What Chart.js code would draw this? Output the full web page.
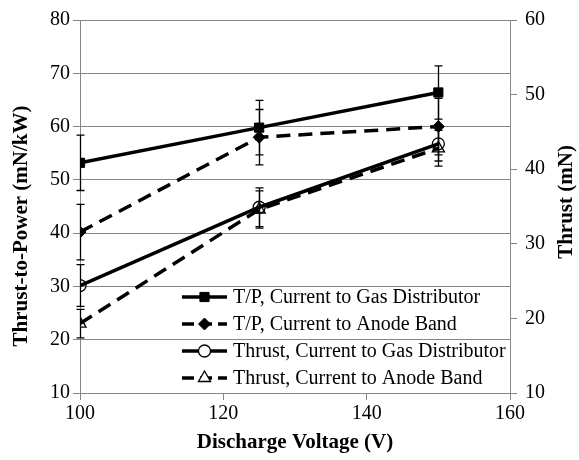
<!DOCTYPE html>
<html>
<head>
<meta charset="utf-8">
<script src="https://cdn.jsdelivr.net/npm/chart.js@4.4.1/dist/chart.umd.min.js"></script>
<style>
  html, body { margin: 0; padding: 0; background: #fff; }
  #wrap { width: 579px; height: 460px; }
</style>
</head>
<body>
<div id="wrap"><canvas id="c" width="579" height="460"></canvas></div>
<script>
"use strict";

// values
const voltage = [100, 125, 150];
const tpGas = [53.2, 59.8, 66.4];
const tpGasErr = [5.2, 5.1, 5.0];
const tpAnode = [40.2, 58.0, 60.0];
const tpAnodeErr = [5.2, 5.2, 5.3];
const thrustGas = [24.4, 34.9, 43.4];
const thrustGasErr = [2.8, 2.6, 2.3];
const thrustAnode = [19.3, 34.6, 42.8];
const thrustAnodeErr = [1.9, 2.5, 2.4];

const seriesNames = [
    "T/P, Current to Gas Distributor",
    "T/P, Current to Anode Band",
    "Thrust, Current to Gas Distributor",
    "Thrust, Current to Anode Band",
];

const xTicks = [100, 120, 140, 160];
const leftTicks = [10, 20, 30, 40, 50, 60, 70, 80];
const rightTicks = [10, 20, 30, 40, 50, 60];

const FONT = "'Liberation Serif', 'Times New Roman', serif";
const GRID = "#868686";

function pts(ys) {
    return voltage.map(function (v, i) {
        return { x: v, y: ys[i] };
    });
}

function makeSet(label, ys, errs, axis, style, dashed) {
    const open = style === "circle" || style === "triangle";
    return {
        label: label,
        data: pts(ys),
        errors: errs,
        yAxisID: axis,
        borderColor: "#000",
        borderWidth: 3.5,
        borderDash: dashed ? [14, 8] : [],
        backgroundColor: open ? "rgba(255,255,255,0)" : "#000",
        pointStyle: style,
        pointRadius: style === "rect" ? 6.5 : style === "triangle" ? 7 : 6,
        pointBorderWidth: open ? 1.3 : 1,
        pointBorderColor: "#000",
        pointBackgroundColor: open ? "rgba(255,255,255,0)" : "#000",
        tension: 0,
    };
}

/**
 * Vertical error bars with caps
 */
const errorBars = {
    id: "errorBars",
    afterDatasetsDraw: function (chart) {
        const ctx = chart.ctx;
        const xs = chart.scales.x;
        ctx.save();
        ctx.strokeStyle = "#000";
        ctx.lineWidth = 1.3;
        chart.data.datasets.forEach(function (ds) {
            const ys = chart.scales[ds.yAxisID];
            ds.data.forEach(function (p, i) {
                const e = ds.errors[i];
                const px = Math.round(xs.getPixelForValue(p.x)) + 0.5;
                const top = ys.getPixelForValue(p.y + e);
                const bot = ys.getPixelForValue(p.y - e);
                ctx.beginPath();
                ctx.moveTo(px, top);
                ctx.lineTo(px, bot);
                ctx.moveTo(px - 4, top);
                ctx.lineTo(px + 4, top);
                ctx.moveTo(px - 4, bot);
                ctx.lineTo(px + 4, bot);
                ctx.stroke();
            });
        });
        ctx.restore();
    },
};

function verticalTitle(ctx, text, x, y) {
    ctx.save();
    ctx.translate(x, y);
    ctx.rotate(-Math.PI / 2);
    ctx.font = "bold 21px " + FONT;
    ctx.fillStyle = "#000";
    ctx.textAlign = "center";
    ctx.textBaseline = "middle";
    ctx.fillText(text, 0, 0);
    ctx.restore();
}

/**
 * Legend inside plot area + both y axis titles (read bottom to top)
 */
const extras = {
    id: "extras",
    afterDraw: function (chart) {
        const ctx = chart.ctx;

        verticalTitle(ctx, "Thrust-to-Power (mN/kW)", 22, 226);
        verticalTitle(ctx, "Thrust (mN)", 567, 202);

        // legend
        ctx.save();
        const x0 = 182, x1 = 227, tx = 233;
        const rows = [297, 324, 351, 378];
        chart.data.datasets.forEach(function (ds, i) {
            const y = rows[i];
            ctx.strokeStyle = "#000";
            ctx.lineWidth = 3.5;
            ctx.setLineDash(ds.borderDash.length ? [12, 6] : []);
            ctx.beginPath();
            ctx.moveTo(x0, y);
            ctx.lineTo(x1, y);
            ctx.stroke();
            ctx.setLineDash([]);
            ctx.lineWidth = ds.pointBorderWidth;
            ctx.fillStyle = ds.pointBackgroundColor;
            if (ds.pointStyle === "circle" || ds.pointStyle === "triangle") {
                ctx.fillStyle = "#fff";
            }
            Chart.helpers.drawPoint(ctx, {
                pointStyle: ds.pointStyle,
                radius: ds.pointRadius,
                rotation: 0,
                borderWidth: ds.pointBorderWidth,
            }, (x0 + x1) / 2, y);
            ctx.fillStyle = "#000";
            ctx.font = "20px " + FONT;
            ctx.textAlign = "left";
            ctx.textBaseline = "middle";
            ctx.fillText(ds.label, tx, y + 1);
        });
        ctx.restore();
    },
};

const ctx = document.getElementById("c").getContext("2d");

new Chart(ctx, {
    type: "line",
    data: {
        datasets: [
            makeSet(seriesNames[0], tpGas, tpGasErr, "y", "rect", false),
            makeSet(seriesNames[1], tpAnode, tpAnodeErr, "y", "rectRot", true),
            makeSet(seriesNames[2], thrustGas, thrustGasErr, "y2", "circle", false),
            makeSet(seriesNames[3], thrustAnode, thrustAnodeErr, "y2", "triangle", true),
        ],
    },
    options: {
        responsive: false,
        animation: false,
        devicePixelRatio: 1,
        layout: { padding: { top: 14, left: 0, right: 0, bottom: 0 } },
        plugins: {
            legend: { display: false },
            tooltip: { enabled: false },
        },
        scales: {
            x: {
                type: "linear",
                min: xTicks[0],
                max: xTicks[xTicks.length - 1],
                afterBuildTicks: function (s) {
                    s.ticks = xTicks.map(function (v) { return { value: v }; });
                },
                afterFit: function (s) { s.height = 67; },
                grid: { drawOnChartArea: false, tickLength: 7, color: GRID },
                border: { color: GRID },
                ticks: {
                    color: "#000",
                    padding: 2,
                    maxRotation: 0,
                    font: { family: FONT, size: 20 },
                },
                title: {
                    display: true,
                    text: "Discharge Voltage (V)",
                    color: "#000",
                    padding: { top: 0, bottom: 5 },
                    font: { family: FONT, size: 21, weight: "bold" },
                },
            },
            y: {
                position: "left",
                min: leftTicks[0],
                max: leftTicks[leftTicks.length - 1],
                afterBuildTicks: function (s) {
                    s.ticks = leftTicks.map(function (v) { return { value: v }; });
                },
                afterFit: function (s) { s.width = 80; },
                grid: { color: GRID, tickLength: 7 },
                border: { color: GRID },
                ticks: {
                    color: "#000",
                    padding: 3,
                    font: { family: FONT, size: 20 },
                },
            },
            y2: {
                position: "right",
                min: rightTicks[0],
                max: rightTicks[rightTicks.length - 1],
                afterBuildTicks: function (s) {
                    s.ticks = rightTicks.map(function (v) { return { value: v }; });
                },
                afterFit: function (s) { s.width = 69; },
                grid: { drawOnChartArea: false, tickLength: 7, color: GRID },
                border: { color: GRID },
                ticks: {
                    color: "#000",
                    padding: 8,
                    font: { family: FONT, size: 20 },
                },
            },
        },
    },
    plugins: [errorBars, extras],
});
</script>
</body>
</html>
